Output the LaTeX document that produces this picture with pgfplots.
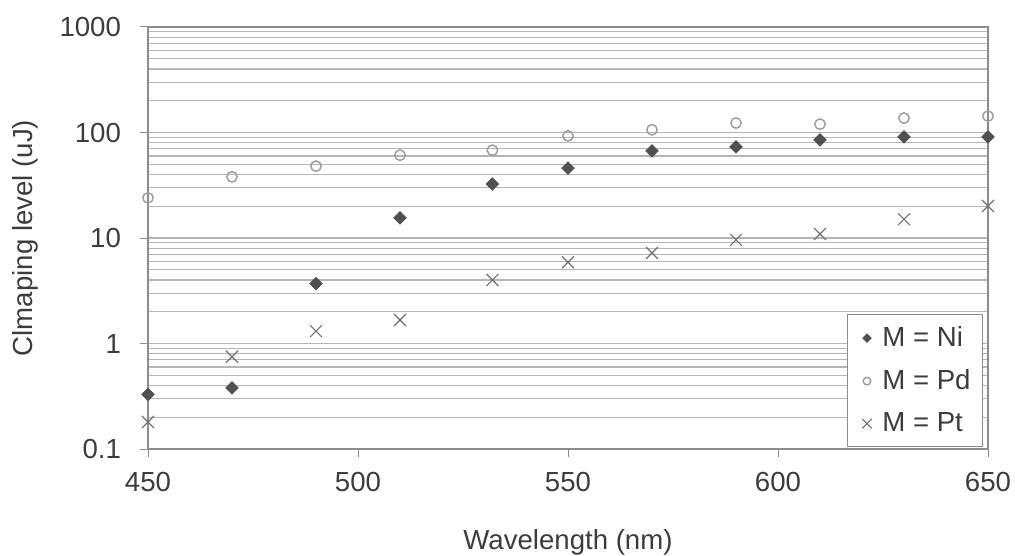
\documentclass[border=0pt]{standalone}
\usepackage{fontspec}
\setmainfont{Liberation Sans}
\usepackage{pgfplots}
\pgfplotsset{compat=1.18}

\definecolor{gridgray}{HTML}{B4B4B4}
\definecolor{axisgray}{HTML}{8C8C8C}
\definecolor{txtgray}{HTML}{3C3C3C}
\definecolor{nicol}{HTML}{505050}
\definecolor{pdcol}{HTML}{9A9A9A}
\definecolor{ptcol}{HTML}{707070}

\begin{document}
\begin{tikzpicture}
\begin{axis}[
    scale only axis,
    width=420pt, height=211pt,
    ymode=log,
    xmin=450, xmax=650,
    ymin=0.1, ymax=1000,
    xtick={450,500,550,600,650},
    ytick={0.1,1,10,100,1000},
    yticklabels={0.1,1,10,100,1000},
    /pgf/number format/assume math mode=true,
    font=\fontsize{13.8}{15}\selectfont,
    ticklabel style={text=txtgray},
    label style={text=txtgray},
    tick align=outside,
    major tick length=4pt,
    minor tick length=0pt,
    tick style={axisgray, line width=0.5pt},
    axis line style={axisgray, line width=0.6pt},
    ymajorgrids, yminorgrids,
    major grid style={gridgray, line width=0.6pt},
    minor grid style={gridgray, line width=0.6pt},
    xtick pos=lower, ytick pos=left,
    xticklabel style={yshift=-4pt},
    yticklabel style={xshift=-6pt},
    xlabel={Wavelength (nm)},
    ylabel={Clmaping level (uJ)},
    xlabel style={yshift=-12pt},
    ylabel style={yshift=4pt},
    legend style={at={(1,0)}, anchor=south east, xshift=-2.5pt, yshift=1pt,
        draw=axisgray, fill=white, text=txtgray, row sep=6pt,
        inner xsep=4pt, inner ysep=4pt,
        font=\fontsize{13.8}{15}\selectfont},
    legend cell align=left,
    legend image code/.code={\path (0pt,0pt) (11pt,0pt);
        \draw[#1] plot coordinates {(5.5pt,0pt)};},
]
\addplot[only marks, mark=square*, mark size=2.2pt, mark options={rotate=45, fill=nicol, draw=nicol},
    legend image post style={mark size=1.5pt}]
coordinates {(450,0.33) (470,0.38) (490,3.7) (510,15.5) (532,32.5) (550,46) (570,67) (590,73) (610,85) (630,91) (650,91)};
\addlegendentry{M = Ni}
\addplot[only marks, mark=o, mark size=2.6pt, mark options={draw=pdcol, fill=white, line width=0.7pt},
    legend image post style={mark size=1.9pt}]
coordinates {(450,24) (470,38) (490,48) (510,61) (532,68) (550,93) (570,106) (590,123) (610,120) (630,137) (650,143)};
\addlegendentry{M = Pd}
\addplot[only marks, mark=x, mark size=4.2pt, mark options={draw=ptcol, line width=0.6pt},
    legend image post style={mark size=3.4pt}]
coordinates {(450,0.18) (470,0.75) (490,1.31) (510,1.67) (532,4.0) (550,5.9) (570,7.2) (590,9.6) (610,10.9) (630,15.1) (650,20.1)};
\addlegendentry{M = Pt}
\draw[axisgray, line width=0.6pt] (rel axis cs:0,1) -- (rel axis cs:1,1) -- (rel axis cs:1,0);
\end{axis}
\pgfresetboundingbox
\path ([shift={(-74pt,-53pt)}]current axis.south west) rectangle ([shift={(13.5pt,13.5pt)}]current axis.north east);
\end{tikzpicture}
\end{document}
